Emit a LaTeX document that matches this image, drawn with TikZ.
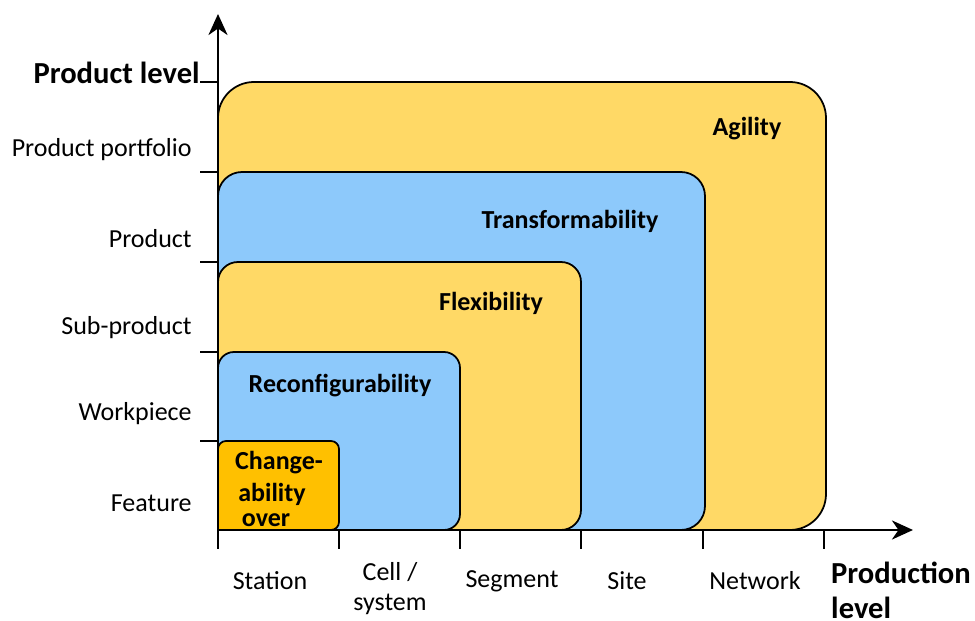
\documentclass[tikz,border=0pt]{standalone}
\usepackage{fontspec}
\setmainfont{Carlito}
\usetikzlibrary{arrows.meta}
\definecolor{zoneyellow}{HTML}{FFD966}
\definecolor{zoneblue}{HTML}{8DC9FB}
\definecolor{zoneorange}{HTML}{FFC000}
\tikzstyle{zone} = [draw=black, line width=1pt]
\tikzstyle{axis} = [line width=1.7pt, -{Stealth[length=0.42cm, width=0.38cm, inset=0.13cm]}]
\tikzstyle{tick} = [line width=0.8pt]
\tikzstyle{lvl} = [font=\fontsize{14.8}{17}\selectfont, inner sep=0pt]
\tikzstyle{zonelabel} = [font=\fontsize{14.8}{17}\selectfont\bfseries, inner sep=0pt]
\tikzstyle{axislabel} = [font=\fontsize{17.4}{20}\selectfont\bfseries, inner sep=0pt, align=left]

\begin{document}
\begin{tikzpicture}[x=0.02cm, y=-0.02cm]
\useasboundingbox (0,0) rectangle (975,621);

% nested zones, largest first
\fill[zoneyellow] (218,530) [rounded corners=0.72cm] -- (218,82) -- (826,82) -- (826,530) [sharp corners] -- (218,530);
\draw[zone] (218,530) [rounded corners=0.72cm] -- (218,82) -- (826,82) -- (826,530) [sharp corners] -- (218,530);
\fill[zoneblue] (218,530) [rounded corners=0.48cm] -- (218,172) -- (705,172) -- (705,530) [sharp corners] -- (218,530);
\draw[zone] (218,530) [rounded corners=0.48cm] -- (218,172) -- (705,172) -- (705,530) [sharp corners] -- (218,530);
\fill[zoneyellow] (218,530) [rounded corners=0.4cm] -- (218,262) -- (581,262) -- (581,530) [sharp corners] -- (218,530);
\draw[zone] (218,530) [rounded corners=0.4cm] -- (218,262) -- (581,262) -- (581,530) [sharp corners] -- (218,530);
\fill[zoneblue] (218,530) [rounded corners=0.32cm] -- (218,352) -- (460,352) -- (460,530) [sharp corners] -- (218,530);
\draw[zone] (218,530) [rounded corners=0.32cm] -- (218,352) -- (460,352) -- (460,530) [sharp corners] -- (218,530);
\fill[zoneorange] (218,530) [rounded corners=0.16cm] -- (218,441) -- (339,441) -- (339,530) [sharp corners] -- (218,530);
\draw[zone] (218,530) [rounded corners=0.16cm] -- (218,441) -- (339,441) -- (339,530) [sharp corners] -- (218,530);

\node[zonelabel] (agility) at (747,129) {Agility};
\node[zonelabel] (transf) at (570,221) {Transformability};
\node[zonelabel] (flex) at (491,303) {Flexibility};
\node[zonelabel] (reconf) at (340,386) {Reconfigurability};
\node[zonelabel] (change1) at (279,463) {Change-};
\node[zonelabel] (change2) at (272,494) {ability};
\node[zonelabel] (change3) at (266,520) {over};

% axes
\draw[axis] (218,531) -- (218,14);
\draw[axis] (217,530) -- (913,530);

%ticks
\foreach \y in {82,172,262,352,441}
	\draw[tick] (200,\y) -- (218,\y);
\foreach \x in {218,339,460,581,703,824}
	\draw[tick] (\x,530) -- (\x,549);

\foreach \y/\name/\label in {150/portfolio/Product portfolio, 239/product/Product, 328/subproduct/Sub-product, 414/workpiece/Workpiece, 503/feature/Feature}
	\node[lvl, anchor=east] (\name) at (192,\y) {\label};

\foreach \x/\name/\label in {270/station/Station, 512/segment/Segment, 627/site/Site, 755/network/Network}
	\node[lvl] (\name) at (\x,581) {\label};
\node[lvl, align=center] (cell) at (390,589) {Cell /\\system};

\node[axislabel, anchor=east] (prodlevel) at (200,73) {Product level};
\node[axislabel] (productionlevel) at (901,590) {Production\\level};
\end{tikzpicture}
\end{document}
